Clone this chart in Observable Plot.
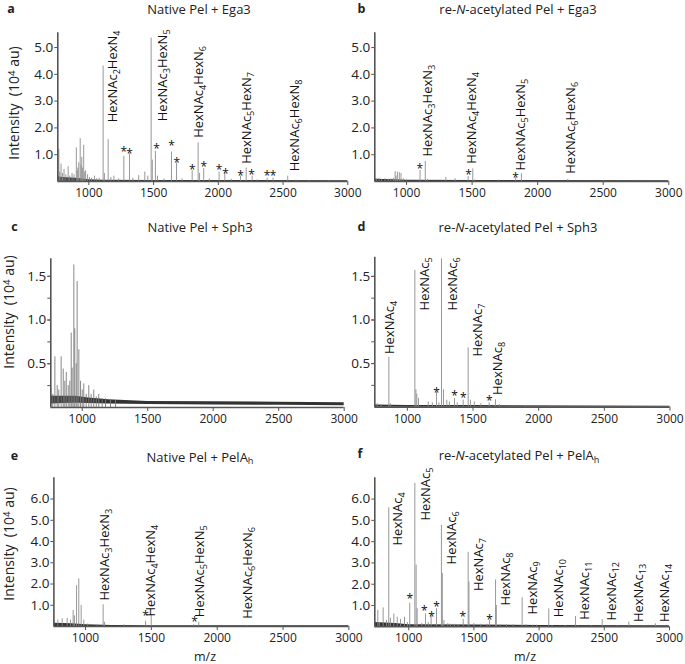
<!DOCTYPE html>
<html><head><meta charset="utf-8">
<script src="https://cdn.jsdelivr.net/npm/d3@7"></script>
<script src="https://cdn.jsdelivr.net/npm/@observablehq/plot@0.6"></script>
<style>
body{margin:0;background:#fff}
#wrap{position:relative;width:685px;height:664px;font-family:"Open Sans",sans-serif;color:#222;overflow:hidden;background:#fff}
.t{position:absolute;white-space:nowrap;line-height:1;transform:translate(-50%,-50%)}
.rot{transform:translate(-50%,-50%) rotate(-90deg)}
.box{position:absolute}
</style></head><body><div id="wrap"></div>
<script>
// ---------- shared ----------
const xTicks = [1000, 1500, 2000, 2500, 3000];

// ---------- panel a : Native Pel + Ega3 ----------
const aMz  = [768,775,785,796,808,822,840,852,870,885,903,910,915,922,933,940,945,952,960,968,975,990,1005,1020,1043,1060,1080,1110,1120,1149,1170,1193,1230,1270,1314,1340,1385,1432,1455,1481,1490,1514,1530,1580,1638,1677,1720,1798,1844,1855,1887,1930,2006,2050,2100,2171,2215,2261,2300,2377,2423,2536,2600,2700,2850];
const aInt = [1.2,0.35,0.65,0.3,0.45,0.25,0.55,0.2,0.3,0.25,1.25,0.4,0.5,0.7,1.6,0.6,0.9,0.5,1.35,0.35,0.4,0.25,0.15,0.12,0.2,0.1,0.12,4.31,0.3,1.56,0.15,0.2,0.1,0.94,1.03,0.12,0.22,0.35,0.2,5.35,0.8,1.13,0.2,0.1,1.1,0.69,0.1,0.4,1.44,0.3,0.48,0.1,0.35,0.3,0.08,0.2,0.5,0.2,0.06,0.12,0.12,0.2,0.05,0.04,0.04];
const aBaseMz = [760,800,900,1000,1100,1500,2000,3000];
const aBaseLo = [0,0,0,0,0,0,0,0];
const aBaseHi = [0.18,0.15,0.12,0.07,0.05,0.04,0.035,0.03];
const aLabText = ["HexNAc2HexN4","HexNAc3HexN5","HexNAc4HexN6","HexNAc5HexN7","HexNAc6HexN8"];
const aLabMz = [1183,1569,1847,2218,2588];
const aLabY  = [2.21,2.25,1.63,0.66,0.38];
const aStarMz = [1270,1314,1522,1638,1679,1798,1887,2006,2055,2171,2256,2377,2423];
const aStarY  = [1.21,1.14,1.31,1.42,0.82,0.55,0.66,0.55,0.41,0.32,0.35,0.31,0.31];
const abYTicks = [1,2,3,4,5];

// ---------- panel b : re-N-acetylated Pel + Ega3 ----------
const bMz  = [770,790,810,835,860,880,900,913,920,930,945,958,975,1000,1103,1143,1160,1300,1370,1470,1505,1520,1700,1832,1876,2230,2500];
const bInt = [0.1,0.12,0.08,0.1,0.08,0.1,0.12,0.37,0.2,0.35,0.33,0.3,0.1,0.06,0.41,0.75,0.08,0.15,0.1,0.18,0.47,0.06,0.05,0.14,0.29,0.08,0.04];
const bBaseMz = [758,900,1000,1500,3000];
const bBaseLo = [0,0,0,0,0];
const bBaseHi = [0.08,0.07,0.05,0.04,0.03];
const bLabText = ["HexNAc3HexN3","HexNAc4HexN4","HexNAc5HexN5","HexNAc6HexN6"];
const bLabMz = [1162,1498,1875,2252];
const bLabY  = [0.93,0.66,0.41,0.29];
const bStarMz = [1101,1472,1832];
const bStarY  = [0.57,0.37,0.26];

// ---------- panel c : Native Pel + Sph3 ----------
const cMz  = [760,775,791,809,821,839,855,867,878,893,905,916,923,936,943,954,961,974,987,1000,1012,1030,1050,1068,1088,1107,1126,1152,1178,1216,1254];
const cInt = [0.23,0.15,0.58,0.25,0.2,0.58,0.44,0.3,0.4,0.25,0.3,0.85,0.45,1.63,0.9,0.5,1.44,0.66,0.3,0.2,0.27,0.15,0.25,0.15,0.2,0.12,0.15,0.1,0.1,0.08,0.08];
const cBaseMz = [760,850,950,1050,1200,1500,2000,2500,3000];
const cBaseLo = [0.04,0.045,0.05,0.045,0.04,0.035,0.03,0.025,0.02];
const cBaseHi = [0.13,0.13,0.13,0.11,0.09,0.07,0.065,0.06,0.055];
const cdYTicks = [0.5,1.0,1.5];
const cdYMinor = [0.25,0.5,0.75,1.0,1.25,1.5];

// ---------- panel d : re-N-acetylated Pel + Sph3 ----------
const dMz  = [770,800,859,870,1057,1065,1072,1085,1159,1190,1222,1240,1260,1275,1300,1320,1359,1380,1425,1463,1480,1510,1560,1623,1671,1700,1900,2100];
const dInt = [0.04,0.03,0.57,0.04,1.57,0.2,0.15,0.1,0.06,0.05,0.17,0.05,1.70,0.2,0.08,0.06,0.1,0.05,0.08,0.68,0.08,0.06,0.04,0.05,0.085,0.03,0.02,0.02];
const dBaseMz = [752,1000,1500,3000];
const dBaseLo = [0,0,0,0];
const dBaseHi = [0.025,0.02,0.018,0.012];
const dLabText = ["HexNAc4","HexNAc5","HexNAc6","HexNAc7","HexNAc8"];
const dLabMz = [868,1135,1344,1535,1691];
const dLabY  = [0.61,1.11,1.11,0.58,0.14];
const dStarMz = [1222,1359,1425,1623];
const dStarY  = [0.2,0.16,0.135,0.11];

// ---------- panel e : Native Pel + PelAh ----------
const eMz  = [760,790,823,861,886,906,916,932,949,967,987,1017,1089,1134,1144,1291,1456,1499,1822,1860,2228];
const eInt = [0.28,0.3,0.36,0.39,0.3,0.75,0.5,1.92,2.24,0.99,0.3,0.12,0.1,1.02,0.2,0.08,0.25,0.56,0.08,0.2,0.05];
const eBaseMz = [760,900,1000,1200,1500,3000];
const eBaseLo = [0,0,0,0,0,0];
const eBaseHi = [0.15,0.13,0.08,0.05,0.04,0.03];
const eLabText = ["HexNAc3HexN3","HexNAc4HexN4","HexNAc5HexN5","HexNAc6HexN6"];
const eLabMz = [1145,1498,1870,2231];
const eLabY  = [1.22,0.47,0.44,0.36];
const eStarMz = [1456,1828];
const eStarY  = [0.62,0.36];
const efYTicks = [1,2,3,4,5,6];

// ---------- panel f : re-N-acetylated Pel + PelAh ----------
const fMz  = [763,775,804,830,847,860,886,912,937,968,990,1008,1047,1057,1065,1100,1129,1150,1172,1213,1251,1258,1270,1300,1320,1350,1380,1418,1456,1462,1500,1550,1600,1620,1666,1672,1700,1750,1800,1870,1900,1950,1980,2074,2100,2200,2279,2300,2400,2484,2600,2688,2800,2893];
const fInt = [0.77,0.2,0.89,0.3,5.59,0.4,0.6,0.45,0.35,0.45,0.2,1.11,6.74,2.9,0.85,0.15,0.6,0.2,0.5,0.85,4.76,2.5,0.3,0.15,0.12,0.12,0.1,0.35,3.5,2.1,0.15,0.12,0.12,0.3,2.2,1.0,0.1,0.1,0.1,1.36,0.1,0.08,0.08,0.84,0.06,0.06,0.48,0.05,0.05,0.33,0.05,0.22,0.04,0.14];
const fBaseMz = [740,900,1000,1500,2000,3000];
const fBaseLo = [0,0,0,0,0,0];
const fBaseHi = [0.2,0.15,0.1,0.08,0.06,0.05];
const fLabText = ["HexNAc4","HexNAc5","HexNAc6","HexNAc7","HexNAc8","HexNAc9","HexNAc10","HexNAc11","HexNAc12","HexNAc13","HexNAc14"];
const fLabMz = [915,1129,1333,1540,1743,1950,2149,2354,2554,2763,2968];
const fLabY  = [3.82,4.99,2.93,1.68,1.0,0.58,0.45,0.33,0.3,0.22,0.22];
const fStarMz = [1008,1120,1175,1213,1415,1620];
const fStarY  = [1.44,0.87,0.62,1.08,0.61,0.48];

// ---------- drawing ----------
const wrap = document.getElementById("wrap");
const FONT = "Open Sans";

function subscriptify(svg) {
  const NS = "http://www.w3.org/2000/svg";
  svg.querySelectorAll("text").forEach(t => {
    const s = t.textContent;
    if (!/^HexNAc/.test(s)) return;
    t.textContent = "";
    const parts = s.split(/(\d+)/).filter(p => p.length);
    let down = false;
    for (const p of parts) {
      const ts = document.createElementNS(NS, "tspan");
      ts.textContent = p;
      if (/^\d+$/.test(p)) { ts.setAttribute("font-size", "70%"); ts.setAttribute("dy", "3"); down = true; }
      else if (down) { ts.setAttribute("dy", "-3"); down = false; }
      t.appendChild(ts);
    }
  });
}

function panel(c) {
  const marks = [
    Plot.areaY(c.bMz, {x: c.bMz, y1: c.bLo, y2: c.bHi, fill: "#333", curve: "linear"}),
    Plot.ruleX(c.mz, {x: c.mz, y1: 0, y2: c.val, stroke: c.peak || "#8c8c8c", strokeWidth: 0.9}),
    Plot.ruleY([0], {x1: c.xDom[0], x2: c.xDom[1], stroke: "#555", strokeWidth: 1.6}),
    Plot.ruleX([c.xDom[0]], {y1: 0, y2: c.yDom[1], stroke: "#555", strokeWidth: 1.6}),
    Plot.axisX({ticks: xTicks, tickSize: 4, tickPadding: 3, tickFormat: d => String(d), fontSize: 12, stroke: "#555", fill: "#222", label: null})
  ];
  if (c.yMinor) marks.push(Plot.axisY({ticks: c.yMinor, tickSize: 3, tickFormat: () => "", stroke: "#555", label: null}));
  marks.push(Plot.axisY({ticks: c.yTicks, tickSize: 3, tickPadding: 1.5, tickFormat: d => d.toFixed(1), fontSize: 13.5, stroke: "#555", fill: "#222", label: null}));
  if (c.labText) marks.push(Plot.text(c.labText, {x: c.labMz, y: c.labY, text: c.labText, rotate: -90, textAnchor: "start", lineAnchor: "middle", fontSize: 13, fill: "#111"}));
  if (c.starMz) marks.push(Plot.text(c.starMz, {x: c.starMz, y: c.starY, text: () => "*", fontSize: 12, dy: 3.2, fill: "#111"}));
  const svg = Plot.plot({
    width: c.width, height: c.height,
    marginLeft: c.mL, marginRight: c.mR, marginTop: c.mT, marginBottom: c.mB,
    style: {background: "transparent", overflow: "visible", fontFamily: FONT, maxWidth: "none"},
    x: {domain: c.xDom},
    y: {domain: c.yDom},
    marks
  });
  subscriptify(svg);
  const box = document.createElement("div");
  box.className = "box";
  box.style.left = c.left + "px";
  box.style.top = c.top + "px";
  box.appendChild(svg);
  wrap.appendChild(box);
}

panel({left: 0, top: 20, width: 360, height: 185, mL: 57.3, mR: 12.7, mT: 12.3, mB: 24,
  xDom: [760, 3000], yDom: [0, 5.55], mz: aMz, val: aInt, bMz: aBaseMz, bLo: aBaseLo, bHi: aBaseHi,
  yTicks: abYTicks, labText: aLabText, labMz: aLabMz, labY: aLabY, starMz: aStarMz, starY: aStarY});
panel({left: 340, top: 20, width: 345, height: 185, mL: 34.3, mR: 16.7, mT: 12.3, mB: 24,
  xDom: [758, 3000], yDom: [0, 5.55], mz: bMz, val: bInt, bMz: bBaseMz, bLo: bBaseLo, bHi: bBaseHi,
  yTicks: abYTicks, labText: bLabText, labMz: bLabMz, labY: bLabY, starMz: bStarMz, starY: bStarY});
panel({left: 0, top: 245, width: 360, height: 186, mL: 50.3, mR: 16.3, mT: 13.3, mB: 24,
  xDom: [760, 3000], yDom: [0, 1.7], mz: cMz, val: cInt, bMz: cBaseMz, bLo: cBaseLo, bHi: cBaseHi,
  yTicks: cdYTicks, yMinor: cdYMinor, peak: "#7a7a7a"});
panel({left: 340, top: 245, width: 345, height: 185.7, mL: 34.3, mR: 15.5, mT: 11.7, mB: 24,
  xDom: [752, 3000], yDom: [0, 1.72], mz: dMz, val: dInt, bMz: dBaseMz, bLo: dBaseLo, bHi: dBaseHi,
  yTicks: cdYTicks, yMinor: cdYMinor, labText: dLabText, labMz: dLabMz, labY: dLabY, starMz: dStarMz, starY: dStarY});
panel({left: 0, top: 465, width: 360, height: 185, mL: 53.4, mR: 11.6, mT: 12.3, mB: 24,
  xDom: [760, 3000], yDom: [0, 7], mz: eMz, val: eInt, bMz: eBaseMz, bLo: eBaseLo, bHi: eBaseHi,
  yTicks: efYTicks, labText: eLabText, labMz: eLabMz, labY: eLabY, starMz: eStarMz, starY: eStarY});
panel({left: 340, top: 465, width: 345, height: 185.3, mL: 34.3, mR: 16, mT: 12.3, mB: 24,
  xDom: [740, 3000], yDom: [0, 7], mz: fMz, val: fInt, bMz: fBaseMz, bLo: fBaseLo, bHi: fBaseHi,
  yTicks: efYTicks, labText: fLabText, labMz: fLabMz, labY: fLabY, starMz: fStarMz, starY: fStarY});

// ---------- text outside the plots ----------
function put(html, x, y, size, extra = "", cls = "t") {
  const d = document.createElement("div");
  d.className = cls;
  d.style.left = x + "px";
  d.style.top = y + "px";
  d.style.fontSize = size + "px";
  d.style.cssText += extra;
  d.innerHTML = html;
  wrap.appendChild(d);
}
const sub = s => `<span style="font-size:70%;position:relative;top:0.3em">${s}</span>`;
const titles = [
  ["Native Pel + Ega3", 199, 8.5],
  [`re-<i>N</i>-acetylated Pel + Ega3`, 518, 8.5],
  ["Native Pel + Sph3", 200, 226.5],
  [`re-<i>N</i>-acetylated Pel + Sph3`, 518, 226.5],
  [`Native Pel + PelA${sub("h")}`, 200, 456.5],
  [`re-<i>N</i>-acetylated Pel + PelA${sub("h")}`, 519, 455]
];
titles.forEach(([h, x, y]) => put(h, x, y, 13));
const letters = [["a", 11, 8.5], ["b", 361.5, 8.5], ["c", 14.5, 227], ["d", 361.5, 226.5], ["e", 14.5, 456], ["f", 360, 454]];
letters.forEach(([h, x, y]) => put(h, x, y, 12.5, "font-weight:bold;"));
const yTitle = `Intensity&nbsp; (10<span style="font-size:70%;position:relative;top:-0.45em">4</span> au)`;
[[14, 103], [8.5, 312], [9, 544]].forEach(([x, y]) => put(yTitle, x, y, 14, "", "t rot"));
[[205, 657], [525, 656.7]].forEach(([x, y]) => put("m/z", x, y, 12.5));
</script>
</body></html>
